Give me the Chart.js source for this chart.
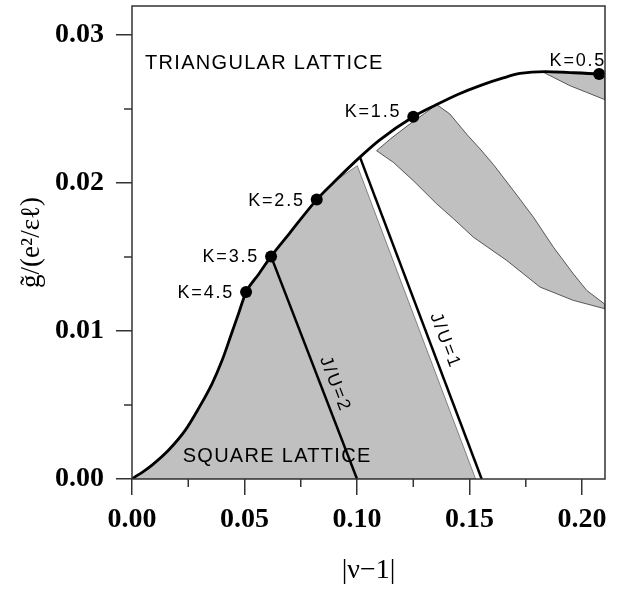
<!DOCTYPE html>
<html>
<head>
<meta charset="utf-8">
<script src="https://cdn.jsdelivr.net/npm/chart.js@4.4.0/dist/chart.umd.min.js"></script>
<style>
  html, body { margin: 0; padding: 0; background: #fff; }
  #wrap { width: 621px; height: 591px; }
</style>
</head>
<body>
<div id="wrap"><canvas id="phaseChart"></canvas></div>
<script>
// phase boundary (upper black curve)
const curveX = [0, 0.0015, 0.005, 0.0089, 0.0163, 0.0237, 0.0296, 0.0356, 0.040, 0.0444, 0.0474, 0.0507, 0.0562, 0.0618, 0.070, 0.0821, 0.090, 0.1013, 0.110, 0.125, 0.1354, 0.145, 0.155, 0.165, 0.1724, 0.1836, 0.1947, 0.2076, 0.2102];
const curveY = [0, 0.00016, 0.0005, 0.00094, 0.00196, 0.0033, 0.00477, 0.00645, 0.0080, 0.0099, 0.0112, 0.01263, 0.01382, 0.01504, 0.0166, 0.01888, 0.0201, 0.02175, 0.0229, 0.02448, 0.0253, 0.0260, 0.0266, 0.0271, 0.0274, 0.02753, 0.02746, 0.02736, 0.02733];

// gray region under the curve (square lattice side)
const squareX = [0, 0.005, 0.0089, 0.0163, 0.0237, 0.0296, 0.0356, 0.040, 0.0444, 0.0474, 0.0507, 0.0562, 0.0618, 0.070, 0.0821, 0.090, 0.1001, 0.1527, 0];
const squareY = [0, 0.0005, 0.00094, 0.00196, 0.0033, 0.00477, 0.00645, 0.0080, 0.0099, 0.0112, 0.01263, 0.01382, 0.01504, 0.0166, 0.01888, 0.0201, 0.02117, 0, 0];

// gray wedge in the middle
const wedgeX = [0.1087, 0.1150, 0.1236, 0.1300, 0.1354, 0.1413, 0.1487, 0.1547, 0.1606, 0.1695, 0.1784, 0.1873, 0.1961, 0.2021, 0.2102, 0.2102, 0.1961, 0.1813, 0.1665, 0.1517, 0.1429, 0.1354, 0.1250, 0.1161, 0.1087];
const wedgeY = [0.02218, 0.0230, 0.0240, 0.0247, 0.0253, 0.02466, 0.0233, 0.0223, 0.02125, 0.01949, 0.01769, 0.01566, 0.01387, 0.01274, 0.0118, 0.0115, 0.01207, 0.01297, 0.01477, 0.01634, 0.01758, 0.01859, 0.02016, 0.0214, 0.02218];

// small gray sliver near K=0.5
const capX = [0.1828, 0.1947, 0.2076, 0.2102, 0.2102, 0.2095, 0.2021, 0.1947, 0.1828];
const capY = [0.02748, 0.02742, 0.02732, 0.0273, 0.0256, 0.02567, 0.02612, 0.02657, 0.02748];

// J/U lines
const ju2X = [0.0618, 0.1000];
const ju2Y = [0.01504, 0];
const ju1X = [0.1013, 0.1554];
const ju1Y = [0.02175, 0];

// K points on the boundary
const kNames = ["K=4.5", "K=3.5", "K=2.5", "K=1.5", "K=0.5"];
const kX = [0.0507, 0.0618, 0.0821, 0.125, 0.2076];
const kY = [0.01263, 0.01504, 0.01888, 0.02448, 0.02736];

// ticks
const xMajorTicks = [0, 0.05, 0.10, 0.15, 0.20];
const xMinorTicks = [0.025, 0.075, 0.125, 0.175];
const yMajorTicks = [0, 0.01, 0.02, 0.03];
const yMinorTicks = [0.005, 0.015, 0.025];

const toPoints = (xs, ys) => xs.map((x, i) => ({x: x, y: ys[i]}));

const GRAY = "#c0c0c0";
const serif = "'Liberation Serif', 'Times New Roman', serif";
const sans = "'Liberation Sans', Arial, sans-serif";

function drawText(ctx, text, px, py, align, size, spacing, angle) {
    ctx.save();
    ctx.translate(px, py);
    if (angle) ctx.rotate(angle);
    ctx.font = size + "px " + sans;
    ctx.letterSpacing = spacing + "px";
    ctx.textAlign = align;
    ctx.textBaseline = "middle";
    ctx.fillStyle = "#000";
    ctx.fillText(text, 0, 0);
    ctx.restore();
}

const decorations = {
    id: "decorations",
    afterDraw(chart) {
        const ctx = chart.ctx;
        const a = chart.chartArea;
        const x = chart.scales.x;
        const y = chart.scales.y;
        ctx.save();

        // frame round the plot
        ctx.strokeStyle = "#333";
        ctx.lineWidth = 1.5;
        ctx.strokeRect(a.left, a.top, a.right - a.left, a.bottom - a.top);

        // minor ticks
        ctx.beginPath();
        xMinorTicks.forEach(v => {
            const px = x.getPixelForValue(v);
            ctx.moveTo(px, a.bottom);
            ctx.lineTo(px, a.bottom + 8);
        });
        yMinorTicks.forEach(v => {
            const py = y.getPixelForValue(v);
            ctx.moveTo(a.left, py);
            ctx.lineTo(a.left - 8, py);
        });
        ctx.stroke();

        // K labels next to the dots
        kNames.forEach((name, i) => {
            const px = x.getPixelForValue(kX[i]);
            const py = y.getPixelForValue(kY[i]);
            if (i === kNames.length - 1) {
                drawText(ctx, name, px + 7, py - 13, "right", 18, 1.8);
            } else if (i === 3) {
                drawText(ctx, name, px - 12, py - 5, "right", 18, 1.8);
            } else {
                drawText(ctx, name, px - 12, py + 1, "right", 18, 1.8);
            }
        });

        // region names
        drawText(ctx, "TRIANGULAR LATTICE", x.getPixelForValue(0.0058), y.getPixelForValue(0.02805), "left", 20, 1.3);
        drawText(ctx, "SQUARE LATTICE", x.getPixelForValue(0.0225), y.getPixelForValue(0.0015), "left", 20, 1.3);

        // J/U labels along their lines
        const angleOf = (xs, ys) => Math.atan2(
            y.getPixelForValue(ys[1]) - y.getPixelForValue(ys[0]),
            x.getPixelForValue(xs[1]) - x.getPixelForValue(xs[0]));
        drawText(ctx, "J/U=2", x.getPixelForValue(0.0902), y.getPixelForValue(0.0064), "center", 18, 2.2, angleOf(ju2X, ju2Y));
        drawText(ctx, "J/U=1", x.getPixelForValue(0.1391), y.getPixelForValue(0.00933), "center", 18, 2.2, angleOf(ju1X, ju1Y));

        ctx.restore();
    }
};

new Chart(document.getElementById("phaseChart"), {
    type: "line",
    data: {
        datasets: [
            {
                data: toPoints(kX, kY),
                showLine: false,
                pointRadius: 6,
                pointBackgroundColor: "#000",
                pointBorderColor: "#000",
                pointBorderWidth: 0
            },
            {
                data: toPoints(curveX, curveY),
                borderColor: "#000",
                borderWidth: 2.8,
                pointRadius: 0,
                cubicInterpolationMode: "monotone",
                fill: false
            },
            {
                data: toPoints(ju1X, ju1Y),
                borderColor: "#000",
                borderWidth: 2.5,
                pointRadius: 0,
                fill: false
            },
            {
                data: toPoints(ju2X, ju2Y),
                borderColor: "#000",
                borderWidth: 2.5,
                pointRadius: 0,
                fill: false
            },
            {
                data: toPoints(squareX, squareY),
                borderColor: "#6a6a6a",
                borderWidth: 0.8,
                backgroundColor: GRAY,
                pointRadius: 0,
                fill: "shape"
            },
            {
                data: toPoints(wedgeX, wedgeY),
                borderColor: "#333",
                borderWidth: 0.8,
                backgroundColor: GRAY,
                pointRadius: 0,
                fill: "shape"
            },
            {
                data: toPoints(capX, capY),
                borderColor: "#333",
                borderWidth: 0.8,
                backgroundColor: GRAY,
                pointRadius: 0,
                fill: "shape"
            }
        ]
    },
    options: {
        responsive: true,
        maintainAspectRatio: false,
        animation: false,
        events: [],
        layout: { padding: { top: 5, right: 16, left: 0, bottom: 0 } },
        plugins: {
            legend: { display: false },
            tooltip: { enabled: false }
        },
        scales: {
            x: {
                type: "linear",
                min: 0,
                max: 0.2102,
                afterBuildTicks: scale => { scale.ticks = xMajorTicks.map(v => ({value: v})); },
                afterFit: scale => {
                    scale.height = 112;
                    scale.paddingLeft = 0;
                    scale.paddingRight = 0;
                },
                border: { display: false },
                grid: { drawOnChartArea: false, drawTicks: true, tickLength: 16, color: "#333", lineWidth: 1.5 },
                ticks: {
                    autoSkip: false,
                    maxRotation: 0,
                    padding: 8,
                    color: "#000",
                    font: { family: serif, size: 28, weight: "bold" },
                    callback: v => v.toFixed(2)
                },
                title: {
                    display: true,
                    text: "|ν−1|",
                    color: "#000",
                    padding: 4,
                    font: { family: serif, size: 28 }
                }
            },
            y: {
                type: "linear",
                min: 0,
                max: 0.03196,
                afterBuildTicks: scale => { scale.ticks = yMajorTicks.map(v => ({value: v})); },
                afterFit: scale => {
                    scale.width = 132;
                    scale.paddingTop = 0;
                    scale.paddingBottom = 0;
                },
                border: { display: false },
                grid: { drawOnChartArea: false, drawTicks: true, tickLength: 16, color: "#333", lineWidth: 1.5 },
                ticks: {
                    padding: 12,
                    color: "#000",
                    font: { family: serif, size: 28, weight: "bold" },
                    callback: v => v.toFixed(2)
                },
                title: {
                    display: true,
                    text: "g̃/(e²/εℓ)",
                    color: "#000",
                    padding: 16,
                    font: { family: serif, size: 27 }
                }
            }
        }
    },
    plugins: [decorations]
});
</script>
</body>
</html>
